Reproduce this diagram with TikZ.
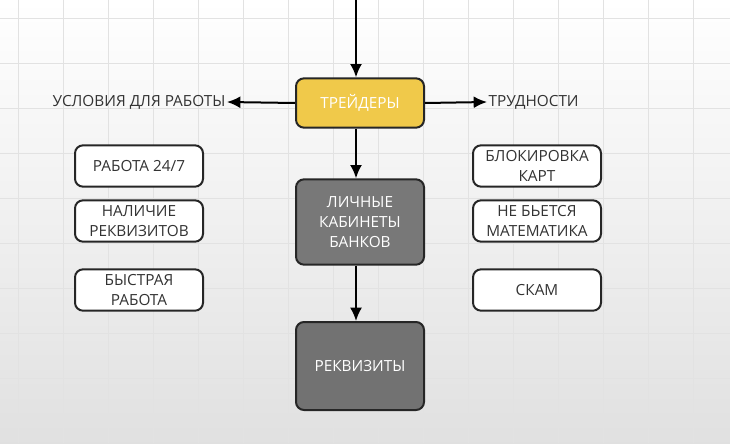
\documentclass[tikz,border=0pt]{standalone}
\usepackage{fontspec}
\setmainfont{Open Sans}
\usepackage{xcolor}
\usetikzlibrary{arrows.meta}
\definecolor{traderyellow}{RGB}{240,201,74}
\definecolor{bankgray}{RGB}{120,120,120}
\definecolor{gridgray}{RGB}{226,226,226}
\tikzset{
  box/.style={draw=black!85,line width=1.5pt,rounded corners=6pt,align=center,inner sep=0pt,font=\fontsize{11.5}{15}\selectfont},
  whitebox/.style={box,fill=white,text=black!80,minimum width=96pt,minimum height=31pt},
  bigbox/.style={box,text=white,minimum width=96pt},
  arr/.style={line width=1.5pt,-{Latex[length=10pt,width=9pt]}},
  lbl/.style={font=\fontsize{11.5}{15}\selectfont,text=black!80,inner sep=1pt}
}
\begin{document}
\begin{tikzpicture}[x=0.75pt,y=0.75pt,yscale=-1,xscale=1]
	\useasboundingbox (0,0) rectangle (730,443);
	%Background
	\shade[top color=white,bottom color=black!12] (0,0) rectangle (730,443);
	\foreach \gx in {18,63,...,730} \draw[gridgray,line width=0.4pt] (\gx,0) -- (\gx,443);
	\foreach \gy in {18,63,...,443} \draw[gridgray,line width=0.4pt] (0,\gy) -- (730,\gy);
	
	% Main column
	\node[bigbox,fill=traderyellow,minimum height=37pt] (traders) at (360,103) {ТРЕЙДЕРЫ};
	\node[bigbox,fill=bankgray,minimum height=64pt] (cabinets) at (360,222) {ЛИЧНЫЕ\\КАБИНЕТЫ\\БАНКОВ};
	\node[bigbox,fill=bankgray!95!black,minimum height=66pt] (requisites) at (360,366) {РЕКВИЗИТЫ};
	\coordinate (top) at (356,0);
	
	% Side labels
	\node[lbl,anchor=east] (conditions) at (227,102) {УСЛОВИЯ ДЛЯ РАБОТЫ};
	\node[lbl,anchor=west] (troubles) at (487,102) {ТРУДНОСТИ};
	
	% Left boxes
	\node[whitebox] (work) at (139,166) {РАБОТА 24/7};
	\node[whitebox] (presence) at (139,221) {НАЛИЧИЕ\\РЕКВИЗИТОВ};
	\node[whitebox] (fast) at (139,290) {БЫСТРАЯ\\РАБОТА};
	
	% Right boxes
	\node[whitebox] (blocking) at (537,166) {БЛОКИРОВКА\\КАРТ};
	\node[whitebox] (math) at (537,221) {НЕ БЬЕТСЯ\\МАТЕМАТИКА};
	\node[whitebox] (scam) at (537,290) {СКАМ};
	
	% Connectors
	\draw[arr] (top) -- (top |- traders.north);
	\draw[arr] (traders.west) -- (conditions.east);
	\draw[arr] (traders.east) -- (troubles.west);
	\draw[arr] (traders.south -| top) -- (cabinets.north -| top);
	\draw[arr] (cabinets.south -| top) -- (requisites.north -| top);
\end{tikzpicture}
\end{document}
